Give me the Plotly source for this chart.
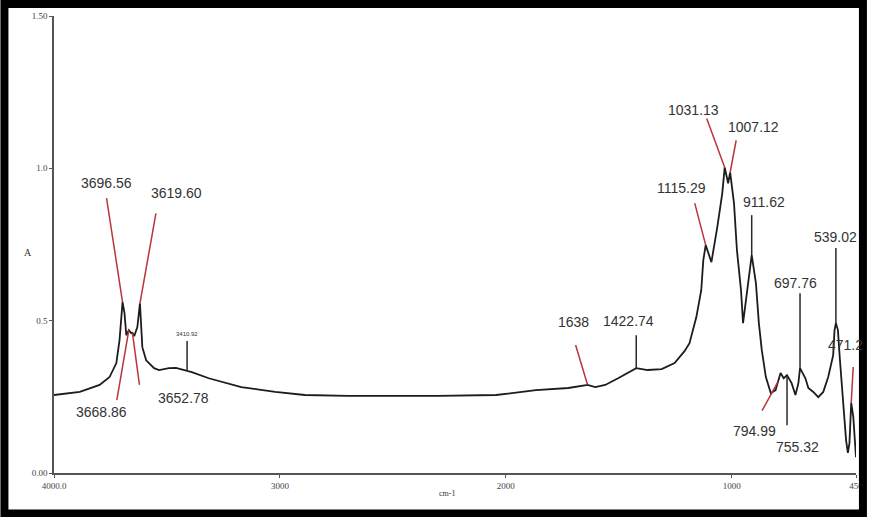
import numpy as np
import plotly.graph_objects as go

# ---------------- data ----------------
wavenumber = [4000, 3886, 3798, 3754, 3724, 3710, 3696.56, 3688, 3680, 3668.86, 3658, 3652.78,
              3645, 3631, 3619.60, 3614, 3609, 3592, 3557, 3535, 3491, 3460, 3390, 3315, 3171,
              3021, 2890, 2700, 2482, 2300, 2043, 1867, 1723, 1638, 1604, 1560, 1503, 1459,
              1422.74, 1372, 1310, 1253, 1209, 1187, 1157, 1135, 1126, 1115.29, 1090, 1064,
              1042, 1031.13, 1016, 1007.12, 990, 977, 959, 950, 937, 924, 911.62, 893, 880,
              867, 849, 827, 806, 794.99, 784, 770, 755.32, 735, 718, 705, 697.76, 674, 661,
              639, 617, 595, 573, 551, 545, 539.02, 530, 522, 507, 494, 486, 479, 471.2, 462, 450]
absorbance = [0.256, 0.266, 0.289, 0.315, 0.361, 0.436, 0.561, 0.525, 0.452, 0.469, 0.459, 0.460,
              0.449, 0.479, 0.557, 0.492, 0.413, 0.370, 0.344, 0.338, 0.344, 0.345, 0.331, 0.311, 0.282,
              0.266, 0.256, 0.253, 0.252, 0.253, 0.256, 0.272, 0.279, 0.289, 0.282, 0.289, 0.311, 0.328,
              0.344, 0.338, 0.341, 0.361, 0.400, 0.426, 0.511, 0.600, 0.698, 0.748, 0.692, 0.807,
              0.918, 1.003, 0.951, 0.987, 0.885, 0.731, 0.600, 0.492, 0.567, 0.643, 0.715, 0.623, 0.492,
              0.403, 0.315, 0.262, 0.272, 0.300, 0.328, 0.311, 0.321, 0.295, 0.256, 0.295, 0.344, 0.311, 0.279,
              0.266, 0.249, 0.266, 0.315, 0.387, 0.469, 0.492, 0.469, 0.380, 0.239, 0.108, 0.066, 0.098, 0.230, 0.184, 0.052]

peak_wn = [3696.56, 3619.60, 3668.86, 3652.78, 3410.92, 1638, 1422.74, 1115.29, 1031.13,
           1007.12, 911.62, 697.76, 794.99, 755.32, 539.02, 471.2]
peak_text = ["3696.56", "3619.60", "3668.86", "3652.78", "3410.92", "1638", "1422.74", "1115.29",
             "1031.13", "1007.12", "911.62", "697.76", "794.99", "755.32", "539.02", "471.2"]

x_tickvals = [4000, 3000, 2000, 1000, 450]
x_ticktext = ["4000.0", "3000", "2000", "1000", "450"]
y_tickvals = [0, 0.5, 1.0, 1.5]
y_ticktext = ["0.00", "0.5", "1.0", "1.50"]

# ---------------- styles (leader color, leader dx, dy, text dx, dy, font size) ----------------
RED = "#b8353a"
BLK = "#2a2a2a"
styles = {
    "3696.56": (RED, -16, 104, -16, 119, 14),
    "3619.60": (RED, 16, 90, 37, 110, 14),
    "3668.86": (RED, -12, -70, -27, -82, 14),
    "3652.78": (RED, 7, -52, 51, -65, 14),
    "3410.92": (BLK, 0, 30, 0, 37, 6),
    "1638": (RED, -12, 40, -14, 63, 14),
    "1422.74": (BLK, 0, 33, -8, 47, 14),
    "1115.29": (RED, -11, 42, -24, 57, 14),
    "1031.13": (RED, -18, 49, -31, 57, 14),
    "1007.12": (RED, 6, 32, 23, 45, 14),
    "911.62": (BLK, 0, 40, 12, 53, 14),
    "697.76": (BLK, 0, 75, -5, 85, 14),
    "794.99": (RED, -16, -29, -24, -49, 14),
    "755.32": (BLK, 0, -50, 10, -72, 14),
    "539.02": (BLK, 0, 75, 0, 86, 14),
    "471.2": (RED, 2, 36, -6, 58, 14),
}

fig = go.Figure()
fig.add_trace(go.Scatter(x=wavenumber, y=absorbance, mode="lines",
                         line=dict(color="#1c1c1c", width=1.8), hoverinfo="skip",
                         showlegend=False))

asc_x = np.array(wavenumber[::-1])
asc_y = np.array(absorbance[::-1])

shapes = []
annotations = []
for wn, txt in zip(peak_wn, peak_text):
    col, dx, dy, sx, sy, fs = styles[txt]
    a = float(np.interp(wn, asc_x, asc_y))
    shapes.append(dict(type="line", xref="x", yref="y",
                       xsizemode="pixel", ysizemode="pixel",
                       xanchor=wn, yanchor=a, x0=0, x1=dx, y0=0, y1=dy,
                       line=dict(color=col, width=1.5)))
    annotations.append(dict(x=wn, y=a, xref="x", yref="y", text=txt, showarrow=False,
                            xshift=sx, yshift=sy, xanchor="center", yanchor="middle",
                            font=dict(family="Liberation Sans, Arial", size=fs, color="#333333")))

# axis titles
annotations.append(dict(x=-0.0396, y=0.4825, xref="paper", yref="paper", text="A",
                        showarrow=False, font=dict(family="Liberation Serif", size=10, color="#333")))
annotations.append(dict(x=0.4895, y=-0.059, xref="paper", yref="paper", text="cm-1",
                        showarrow=False, font=dict(family="Liberation Serif", size=8, color="#333")))

# outer black frame
L, T, W, H = 54, 15, 809, 458
def px(xp):
    return (xp - L) / W
def py(yp):
    return (T + H - yp) / H
shapes.append(dict(type="rect", xref="paper", yref="paper",
                   x0=px(4), x1=px(870), y0=py(513.5), y1=py(3),
                   line=dict(color="black", width=8), layer="above"))

fig.update_layout(
    width=874, height=517,
    margin=dict(l=54, r=11, t=15, b=44),
    paper_bgcolor="white", plot_bgcolor="white",
    shapes=shapes, annotations=annotations,
    xaxis=dict(range=[4000, 450], tickvals=x_tickvals, ticktext=x_ticktext,
               showgrid=False, zeroline=False, showline=True, linecolor="#555", linewidth=1.5,
               ticks="outside", ticklen=3, tickcolor="#555",
               tickfont=dict(family="Liberation Serif", size=9, color="#444")),
    yaxis=dict(range=[0, 1.5], tickvals=y_tickvals, ticktext=y_ticktext,
               showgrid=False, zeroline=False, showline=True, linecolor="#555", linewidth=1.5,
               ticks="outside", ticklen=3, tickcolor="#555",
               tickfont=dict(family="Liberation Serif", size=9, color="#444")),
)

fig.write_html("out.html", config={"displayModeBar": False},
               post_script="document.body.style.margin='0px';document.body.style.overflow='hidden';")
